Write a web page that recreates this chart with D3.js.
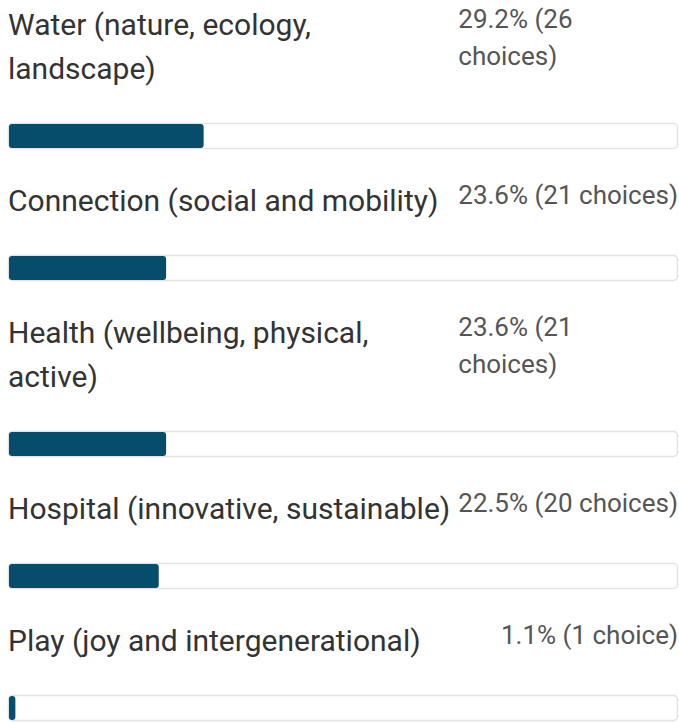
<!DOCTYPE html>
<html>
<head>
<meta charset="utf-8">
<script src="https://cdn.jsdelivr.net/npm/d3@7"></script>
<style>
  html, body { margin: 0; padding: 0; background: #fff; }
  svg { display: block; }
  .label { font-family: Roboto, sans-serif; font-size: 30px; fill: #333; }
  .value { font-family: Roboto, sans-serif; font-size: 26px; fill: #555; }
</style>
</head>
<body>
<svg width="679" height="722"></svg>
<script>
// chart values
var labelLines = [
    ["Water (nature, ecology,", "landscape)"],
    ["Connection (social and mobility)"],
    ["Health (wellbeing, physical,", "active)"],
    ["Hospital (innovative, sustainable)"],
    ["Play (joy and intergenerational)"]
];
var percents = [29.2, 23.6, 23.6, 22.5, 1.1];
var counts = [26, 21, 21, 20, 1];
// rows where the value text wraps onto two lines
var valueWraps = [true, false, true, false, false];

var svg = d3.select('svg');
var svgWidth = +svg.attr('width');

var padding = {l: 8, r: 1};
var firstBase = 35, lineH = 44, valLineH = 37;
var baseToBar = 44, barH = 26, barToBase = 62;

var xScale = d3.scaleLinear()
    .domain([0, 100])
    .range([padding.l, svgWidth - padding.r]);

// build row layout
var rows = [];
var y = firstBase;
labelLines.forEach(function(lines, i) {
    var row = {
        lines: lines,
        pct: percents[i],
        count: counts[i],
        wrap: valueWraps[i],
        base: y
    };
    var lastBase = y + (lines.length - 1) * lineH;
    row.barY = lastBase + baseToBar;
    rows.push(row);
    y = row.barY + barH + barToBase;
});

var rowG = svg.selectAll('.row')
    .data(rows)
    .enter()
    .append('g')
    .attr('class', 'row');

rowG.append('text')
    .attr('class', 'label')
    .selectAll('tspan')
    .data(d => d.lines.map((t, j) => ({t: t, y: d.base + j * lineH})))
    .enter()
    .append('tspan')
    .attr('x', xScale(0))
    .attr('y', d => d.y)
    .text(d => d.t);

rowG.each(function(d) {
    var g = d3.select(this);
    var choiceWord = d.count === 1 ? 'choice' : 'choices';
    var full = d.pct.toFixed(1) + '% (' + d.count + ' ' + choiceWord + ')';
    var vt = g.append('text').attr('class', 'value');
    if (!d.wrap) {
        vt.attr('x', xScale(100)).attr('y', d.base - 7)
          .attr('text-anchor', 'end').text(full);
    } else {
        // left edge where the unwrapped string would start
        vt.text(full);
        var w = vt.node().getComputedTextLength();
        vt.text(null);
        var x0 = xScale(100) - w;
        var parts = [d.pct.toFixed(1) + '% (' + d.count, choiceWord + ')'];
        vt.selectAll('tspan')
          .data(parts)
          .enter()
          .append('tspan')
          .attr('x', x0)
          .attr('y', (p, j) => d.base - 7 + j * valLineH)
          .text(p => p);
    }
});

// track
rowG.append('rect')
    .attr('x', xScale(0) + 0.5)
    .attr('y', d => d.barY + 0.5)
    .attr('width', xScale(100) - xScale(0) - 1)
    .attr('height', barH - 1)
    .attr('rx', 4)
    .attr('fill', '#fff')
    .attr('stroke', '#e2e2e2')
    .attr('stroke-width', 1.5);

// filled bar
rowG.append('rect')
    .attr('x', xScale(0) + 1)
    .attr('y', d => d.barY + 1)
    .attr('width', d => xScale(d.pct) - xScale(0) - 1)
    .attr('height', barH - 2)
    .attr('rx', 3)
    .attr('fill', '#064c6b');
</script>
</body>
</html>
